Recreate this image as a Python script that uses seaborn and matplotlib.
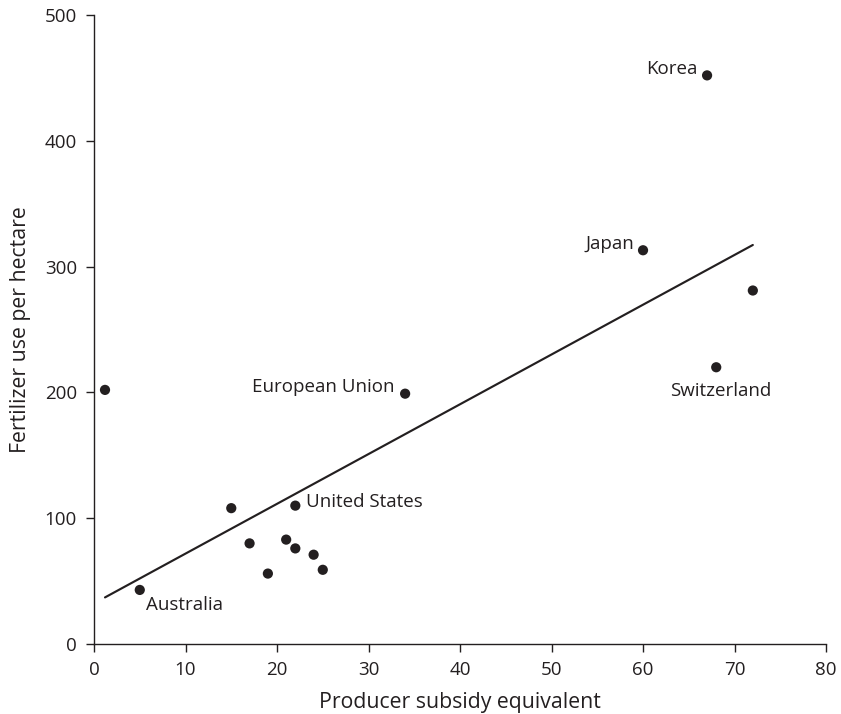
import matplotlib
matplotlib.use("Agg")
import matplotlib.pyplot as plt
import seaborn as sns
import pandas as pd

# Producer subsidy equivalent vs. fertilizer use per hectare
subsidy = [1.2, 67, 60, 72, 68, 34, 22, 15, 17, 19, 21, 22, 24, 25, 5]
fertilizer = [202, 452, 313, 281, 220, 199, 110, 108, 80, 56, 83, 76, 71, 59, 43]
country = ["", "Korea", "Japan", "", "Switzerland", "European Union",
           "United States", "", "", "", "", "", "", "", "Australia"]

x_ticks = [0, 10, 20, 30, 40, 50, 60, 70, 80]
y_ticks = [0, 100, 200, 300, 400, 500]

df = pd.DataFrame({"subsidy": subsidy, "fertilizer": fertilizer, "country": country})

ink = "#231f20"
sns.set_style("ticks")
plt.rcParams["font.family"] = ["Open Sans", "DejaVu Sans"]
plt.rcParams["text.color"] = ink
plt.rcParams["axes.labelcolor"] = ink
plt.rcParams["xtick.color"] = ink
plt.rcParams["ytick.color"] = ink

fig = plt.figure(figsize=(8.41, 7.14), dpi=100)
ax = fig.add_axes([0.1118, 0.098, 0.8704, 0.881])

sns.scatterplot(data=df, x="subsidy", y="fertilizer", ax=ax, color=ink,
                s=54, edgecolor="none", zorder=3)
sns.regplot(data=df, x="subsidy", y="fertilizer", ax=ax, scatter=False,
            ci=None, truncate=True, line_kws={"color": ink, "lw": 1.55})

# label placement (offset in pixels, alignment)
offsets = {
    "Korea": (-10, 6, "right"),
    "Japan": (-9, 6, "right"),
    "Switzerland": (4, -24, "center"),
    "European Union": (-11, 7, "right"),
    "United States": (11, 4, "left"),
    "Australia": (6, -15, "left"),
}
for xv, yv, name in zip(subsidy, fertilizer, country):
    if name:
        dx, dy, ha = offsets[name]
        ax.annotate(name, (xv, yv), xytext=(dx, dy), textcoords="offset pixels",
                    ha=ha, va="center", fontsize=13.5, color=ink)

ax.set_xlim(0, 80)
ax.set_ylim(0, 500)
ax.set_xticks(x_ticks)
ax.set_yticks(y_ticks)
ax.tick_params(labelsize=13.5, length=5.8, width=1, direction="out", pad=6.5)
ax.set_xlabel("Producer subsidy equivalent", fontsize=15.3, labelpad=9)
ax.set_ylabel("Fertilizer use per hectare", fontsize=15.3, labelpad=10)
for side in ["top", "right"]:
    ax.spines[side].set_visible(False)
for side in ["left", "bottom"]:
    ax.spines[side].set_color(ink)
    ax.spines[side].set_linewidth(1)

fig.savefig("out.png", dpi=100)
